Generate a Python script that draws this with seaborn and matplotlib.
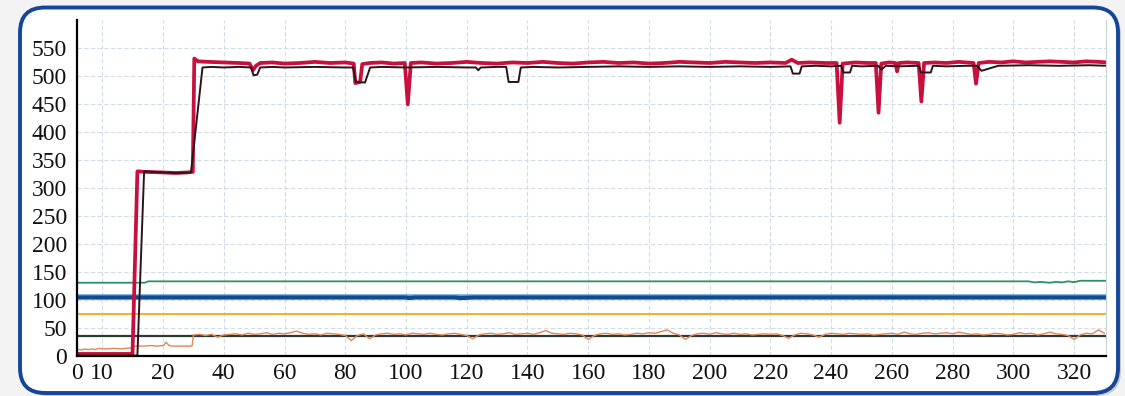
import numpy as np
import pandas as pd
import matplotlib
matplotlib.use('Agg')
import matplotlib.pyplot as plt
import seaborn as sns
from matplotlib.patches import FancyBboxPatch

# --- data ---
red_x = [0, 15.0, 15.8, 17, 20, 24, 28, 29.8, 30.3, 31.5, 35, 40, 45, 48.5, 49.6, 50.6, 52, 56,
         60, 65, 70, 75, 80, 82.8, 83.3, 84.9, 85.6, 88, 92, 96, 99.6, 100.6, 101.6, 105, 110,
         115, 120, 125, 130, 135, 140, 145, 150, 155, 160, 165, 170, 175, 180, 185, 190, 195,
         200, 205, 210, 215, 220, 225, 227, 229, 233, 238, 241.8, 242.8, 243.8, 248, 252,
         254.7, 255.6, 256.5, 259, 261.2, 261.7, 262.3, 265, 268.8, 269.7, 270.6, 274, 278,
         282, 286.9, 287.7, 288.6, 292, 296, 300, 304, 308, 312, 316, 320, 324, 328, 331]
red_y = [3, 3, 330, 329, 328, 327, 328, 329, 532, 527, 526, 525, 524, 523, 511, 519, 524, 525,
         523, 524, 526, 524, 525, 523, 488, 490, 522, 524, 525, 523, 524, 450, 524, 525, 523,
         524, 526, 524, 523, 525, 524, 526, 524, 523, 525, 526, 524, 525, 523, 524, 526, 525,
         524, 526, 525, 524, 525, 524, 530, 524, 525, 524, 524, 417, 523, 525, 524,
         524, 435, 523, 525, 524, 509, 524, 525, 524, 455, 524, 525, 524,
         526, 524, 487, 524, 526, 525, 527, 525, 526, 527, 526, 525, 527, 526, 525]

dark_x = [0, 15.8, 16.9, 20, 25, 29.2, 33.0, 36, 40, 45, 49.0, 49.8, 51.0, 52, 56, 60, 70, 80,
          82.6, 83.5, 86.5, 88.2, 92, 100, 110, 120, 123, 123.8, 124.6, 130, 133.0, 133.8,
          137.0, 137.8, 142, 150, 160, 170, 180, 190, 200, 210, 220, 226.6, 227.4, 229.6,
          230.3, 235, 240, 243.3, 244.0, 246.2, 246.9, 250, 255.5, 256.5, 258, 262, 268.9,
          269.6, 272.8, 273.5, 278, 285, 288, 289.5, 295, 305, 315, 325, 331]
dark_y = [0, 0, 330, 328, 327, 328, 516, 517, 516, 517, 516, 502, 503, 516, 517, 516, 517, 516,
          516, 490, 489, 516, 517, 516, 517, 516, 516, 511, 516, 517, 517, 490,
          490, 516, 517, 516, 517, 518, 517, 518, 517, 518, 517, 518, 505, 505,
          518, 519, 518, 519, 507, 507, 519, 518, 519, 512, 519, 518, 519,
          507, 507, 519, 518, 519, 519, 510, 519, 520, 519, 520, 519]

green_x = [0, 17.0, 17.6, 100, 200, 300, 305, 307, 309, 312, 314, 316, 318, 320, 322, 324, 331]
green_y = [130.5, 130.5, 133, 133, 133, 133, 133, 131, 132, 130.5, 132, 131, 133, 131.5, 134, 134, 134]

blue_x = [0, 100, 101, 103, 116, 118, 122, 331]
blue_y = [104, 104, 103, 104, 104, 103, 104, 104]
lightblue_x = [0, 331]
lightblue_y = [107.5, 107.5]

yellow_x = [0, 331]
yellow_y = [74.5, 74.5]

base_x = [0, 331]
base_y = [35, 35]

orange_early_x = [0, 1, 2, 3, 4, 5, 6, 7, 8, 9, 10, 11, 12, 13, 14, 15, 15.5, 16, 17, 18, 19, 20,
                  20.5, 21, 21.5, 22, 23, 24, 25, 26, 27, 28, 29, 29.6]
orange_early_y = [10, 11, 10, 12, 11, 11, 12, 11, 12, 13, 12, 12, 13, 12, 13, 14, 17, 17, 17, 18, 17, 18,
                  20, 24, 21, 18, 17, 17, 17, 17, 17, 17, 17, 18]
orange_x = np.arange(30, 331, 2)
orange_y = [37, 38, 36, 38, 33, 37, 38, 39, 37, 40,
            38, 39, 41, 38, 40, 39, 41, 44, 40, 38,
            39, 37, 40, 39, 38, 36, 27, 36, 39, 30,
            37, 39, 40, 38, 39, 37, 40, 39, 38, 40,
            38, 37, 39, 40, 38, 36, 30, 37, 39, 40,
            38, 39, 41, 38, 39, 40, 38, 41, 45, 40,
            39, 38, 40, 39, 37, 29, 36, 39, 40, 38,
            39, 37, 38, 40, 39, 41, 40, 43, 46, 40,
            37, 29, 36, 39, 40, 38, 41, 39, 38, 40,
            38, 39, 37, 38, 39, 38, 39, 36, 31, 37,
            40, 39, 37, 33, 38, 40, 39, 38, 40, 39,
            38, 39, 37, 38, 39, 40, 38, 42, 39, 38,
            40, 41, 39, 40, 41, 39, 42, 40, 38, 39,
            37, 38, 40, 39, 37, 38, 41, 39, 40, 37,
            39, 42, 39, 38, 36, 29, 37, 40, 39, 46,
            40]

x_ticks = [0, 10, 20, 40, 60, 80, 100, 120, 140, 160, 180, 200, 220, 240, 260, 280, 300, 320]
y_ticks = [0, 50, 100, 150, 200, 250, 300, 350, 400, 450, 500, 550]

# the x axis of the original is stretched unevenly at the start
SCALE_IN = [0, 10, 20, 1000]
SCALE_OUT = [0, 25, 86, 86 + 980 * 3.036]


def fwd(v):
    return np.interp(v, SCALE_IN, SCALE_OUT)


def inv(v):
    return np.interp(v, SCALE_OUT, SCALE_IN)


sns.set_theme(style='white')
plt.rcParams['font.family'] = ['Liberation Serif', 'DejaVu Serif']

fig = plt.figure(figsize=(11.25, 3.96), dpi=100)
fig.patch.set_facecolor('#f3f3f3')

shadow = FancyBboxPatch((0.23, 0.0), 10.98, 3.855, boxstyle='round,pad=0,rounding_size=0.25',
                        transform=fig.dpi_scale_trans, fc='#a0a0a0', ec='none', alpha=0.5, zorder=-3)
frame = FancyBboxPatch((0.2, 0.03), 10.98, 3.855, boxstyle='round,pad=0,rounding_size=0.25',
                       transform=fig.dpi_scale_trans, fc='white', ec='#15469c', lw=2.8, zorder=-2)
fig.add_artist(shadow)
fig.add_artist(frame)

ax = fig.add_axes([77 / 1125, 40.4 / 396, 1029 / 1125, 335.6 / 396])
ax.set_facecolor('none')

orange_all_x = list(orange_early_x) + list(orange_x)
orange_all_y = list(orange_early_y) + list(orange_y)

lines = [
    (base_x, base_y, '#2b3a33', 1.6),
    (orange_all_x, orange_all_y, '#e0875a', 1.0),
    (yellow_x, yellow_y, '#f3b21c', 1.4),
    (lightblue_x, lightblue_y, '#63aadf', 2.6),
    (blue_x, blue_y, '#114b8e', 3.0),
    (green_x, green_y, '#2f8f68', 1.3),
    (red_x, red_y, '#c8103e', 2.7),
    (dark_x, dark_y, '#2a1418', 1.4),
]
for xs, ys, col, lw in lines:
    sns.lineplot(x=xs, y=ys, ax=ax, color=col, linewidth=lw, estimator=None, sort=False)

ax.set_xscale('function', functions=(fwd, inv))
ax.set_xlim(0, 330.5)
ax.set_ylim(0, 601)
ax.set_xticks(x_ticks)
ax.set_xticklabels([str(t) for t in x_ticks])
ax.set_yticks(y_ticks)
ax.set_yticklabels([str(t) for t in y_ticks])
ax.minorticks_off()
ax.tick_params(length=0, labelsize=17, colors='#111111')
ax.tick_params(axis='y', pad=7)
ax.tick_params(axis='x', pad=5)

ax.grid(True, color='#d3dde9', linestyle=(0, (4, 2)), linewidth=0.8)
ax.set_axisbelow(True)

for s in ['left', 'bottom']:
    ax.spines[s].set_color('black')
    ax.spines[s].set_linewidth(1.6)
ax.spines['top'].set_visible(False)
ax.spines['right'].set_color('#c8d0d8')
ax.spines['right'].set_linewidth(0.8)

fig.savefig('out.png', dpi=100, facecolor=fig.get_facecolor())
